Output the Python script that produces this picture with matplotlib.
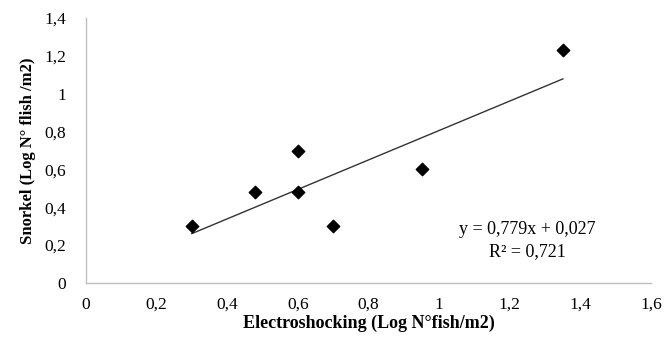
import numpy as np
import matplotlib.pyplot as plt
from matplotlib.ticker import FuncFormatter

# Log fish density, electroshocking vs snorkel
electro = [0.30, 0.48, 0.60, 0.60, 0.70, 0.95, 1.35]
snorkel = [0.30, 0.48, 0.48, 0.70, 0.30, 0.60, 1.23]
slope = 0.779
intercept = 0.027
r2 = 0.721

plt.rcParams['font.family'] = ['Liberation Serif', 'DejaVu Serif']

fig = plt.figure(figsize=(6.7, 3.55), dpi=100)
ax = fig.add_axes([0.128, 0.203, 0.844, 0.746])

ax.scatter(electro, snorkel, marker='D', s=40, color='black', zorder=3)
xfit = np.array([min(electro), max(electro)])
ax.plot(xfit, slope * xfit + intercept, color='#333333', lw=1.0)

ax.text(1.25, 0.28, 'y = {:.3f}x + {:.3f}'.format(slope, intercept).replace('.', ','),
        ha='center', va='center', fontsize=13)
ax.text(1.25, 0.165, 'R\u00b2 = {:.3f}'.format(r2).replace('.', ','),
        ha='center', va='center', fontsize=13)

ax.set_xlim(0, 1.6)
ax.set_ylim(0, 1.4)
ax.set_xticks(np.arange(0, 1.61, 0.2))
ax.set_yticks(np.arange(0, 1.41, 0.2))
fmt = FuncFormatter(lambda v, p: ('%g' % round(v, 1)).replace('.', ','))
ax.xaxis.set_major_formatter(fmt)
ax.yaxis.set_major_formatter(fmt)
ax.tick_params(length=0, labelsize=12.5)
ax.tick_params(axis='x', pad=10)
ax.tick_params(axis='y', pad=14)

for s in ['top', 'right']:
    ax.spines[s].set_visible(False)
for s in ['left', 'bottom']:
    ax.spines[s].set_color('#bfbfbf')
    ax.spines[s].set_linewidth(1.0)

ax.set_xlabel('Electroshocking (Log N\u00b0fish/m2)', fontsize=13, fontweight='bold', labelpad=1)
ax.set_ylabel('Snorkel (Log N\u00b0 flish /m2)', fontsize=12, fontweight='bold', labelpad=6)

fig.savefig('out.png', dpi=100)
